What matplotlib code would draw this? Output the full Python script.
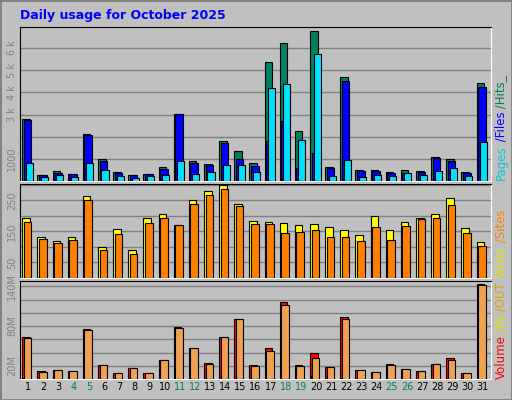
import matplotlib
matplotlib.use("Agg")
import matplotlib.pyplot as plt
import numpy as np

days = list(range(1, 32))
weekends = [4, 5, 11, 12, 18, 19, 25, 26]
hits = [2810, 280, 460, 330, 2100, 990, 415, 280, 330, 610, 3040, 900, 770, 1790, 1350, 815,
        5390, 6240, 2240, 6770, 650, 4680, 500, 500, 415, 500, 460, 1080, 990, 415, 4410]
files = [2770, 280, 370, 330, 2060, 900, 370, 280, 330, 550, 3040, 815, 725, 1700, 990, 680,
         1790, 2730, 590, 1260, 590, 4500, 460, 460, 370, 370, 415, 1040, 900, 370, 4240]
pages = [815, 190, 280, 190, 815, 500, 240, 150, 240, 280, 900, 330, 415, 725, 725, 415,
         4190, 4370, 1840, 5750, 240, 950, 190, 280, 240, 370, 280, 460, 590, 240, 1750]
visits = [195, 131, 120, 131, 264, 100, 158, 90, 192, 206, 172, 250, 281, 301, 240, 185,
          182, 178, 172, 175, 165, 155, 138, 199, 155, 182, 195, 206, 257, 161, 117]
sites = [182, 127, 114, 124, 253, 90, 141, 76, 178, 195, 172, 240, 267, 287, 233, 175,
         175, 144, 148, 155, 131, 131, 120, 165, 124, 168, 189, 195, 236, 144, 103]
volume = [64, 11.7, 13, 11.7, 75, 21, 8.5, 16, 8.5, 29, 78.5, 47, 24, 64, 91, 21,
          47, 117, 21, 39, 18, 94, 13, 10, 23, 15, 11.7, 23, 31, 8.5, 144]
kb_out = [62.6, 10, 13, 11.7, 74, 21, 8.5, 16, 8.5, 29, 77, 47, 23, 64, 91, 19.6,
          42, 112, 19.6, 32, 18, 91, 13, 10, 21, 15, 11.7, 23, 29, 8.5, 142]
kb_in = [2, 0, 0, 0, 1, 0, 0, 0, 0, 0, 2, 0, 0, 0, 0, 0,
         3, 3, 1, 4, 0, 2, 0, 0, 0, 0, 0, 0, 0, 0, 2]

W, H = 512, 400
fig = plt.figure(figsize=(W/100, H/100), dpi=100, facecolor='#C0C0C0')
bg = '#C0C0C0'

def ax_px(l, t, r, b):
    return fig.add_axes([l/W, 1-b/H, (r-l)/W, (b-t)/H], facecolor=bg)

x = np.array(days)
w = 0.5
def style(ax, ymax, ticks, labels):
    ax.set_xlim(0.45, 31.55)
    ax.set_ylim(0, ymax)
    ax.set_yticks(ticks)
    ax.set_yticklabels(labels, rotation=90, va='center', fontsize=7, color='#808080')
    ax.tick_params(axis='y', length=0, pad=2)
    ax.set_xticks([])
    for t in ticks:
        ax.axhline(t, color='#808080', lw=1, zorder=0)
    for s in ax.spines.values():
        s.set_color('black')
    ax.spines['bottom'].set_color('white'); ax.spines['right'].set_color('white')

fig.text(20/W, 1-15/H, 'Daily usage for October 2025', color='#0000FF', fontsize=9,
         fontweight='bold', va='center')

ek = dict(edgecolor='black', linewidth=0.8, align='edge')
a1 = ax_px(20, 27, 491, 181)
a1.bar(x-0.4, hits, w, color='#00805C', zorder=2, **ek)
a1.bar(x-0.3, files, w, color='#0000FF', zorder=3, **ek)
a1.bar(x-0.17, pages, 0.47, color='#00E0FF', zorder=4, **ek)
style(a1, 6950, [1000, 2000, 3000, 4000, 5000, 6000], ['1000', '', '3 k', '4 k', '5 k', '6 k'])

a2 = ax_px(20, 184, 491, 278)
a2.bar(x-0.4, visits, w, color='#FFFF00', zorder=2, **ek)
a2.bar(x-0.3, sites, w, color='#FF8000', zorder=3, **ek)
style(a2, 303, [50, 100, 150, 200, 250, 300], ['50', '', '150', '', '250', ''])

a3 = ax_px(20, 281, 491, 379)
a3.bar(x-0.4, volume, w, color='#FF0000', zorder=2, **ek)
a3.bar(x-0.33, kb_in, 0.12, color='#FFFF00', zorder=3, **ek)
a3.bar(x-0.3, kb_out, w, color='#F0A050', zorder=3, **ek)
style(a3, 148, [20, 40, 60, 80, 100, 120, 140], ['20M', '', '', '80M', '', '', '140M'])

for d in days:
    fig.text((20 + (d-0.45)/31.1*471)/W, 1-387/H, str(d), ha='center', va='center',
             fontsize=7, color='#00805C' if d in weekends else 'black')

fig.canvas.draw()
rend = fig.canvas.get_renderer()
def rlabel(y, parts):
    yy = y
    for txt, c in parts:
        t = fig.text(501/W, yy/H, txt, rotation=90, color=c, fontsize=8.5, ha='center', va='bottom')
        bb = t.get_window_extent(renderer=rend)
        yy += bb.height
rlabel(400-180, [('Pages', '#00C8E0'), (' /Files', '#0000FF'), (' /Hits_', '#00805C')])
rlabel(400-278, [('Visits', '#E0E000'), (' /Sites', '#FF8000')])
rlabel(400-379, [('Volume', '#FF0000'), (' /IN', '#E0E000'), (' /OUT', '#E0A000')])

fig.patches.append(plt.Rectangle((0, 0), 1, 1, transform=fig.transFigure, fill=False,
                                 edgecolor='#808080', lw=2))
fig.savefig('out.png', dpi=100, facecolor=fig.get_facecolor())
